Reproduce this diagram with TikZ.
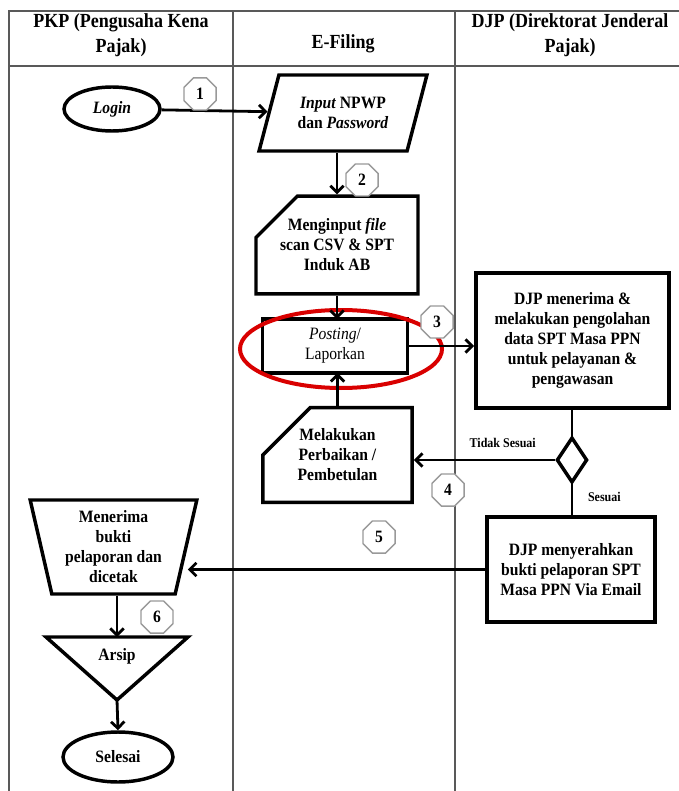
\documentclass[tikz,border=0pt]{standalone}
\usepackage{fontspec}
\setmainfont[FakeStretch=0.9]{Liberation Serif}
\usetikzlibrary{shapes.geometric,shapes.misc,arrows.meta}

\tikzset{
  box/.style={draw,line width=2.6pt,align=center,font=\fontsize{13}{15}\selectfont\bfseries,inner sep=2pt},
  num/.style={draw=black!40,line width=1.1pt,fill=white,regular polygon,regular polygon sides=8,minimum size=26pt,inner sep=0pt,font=\fontsize{13}{14}\selectfont\bfseries},
  flow/.style={line width=2.1pt,>={Straight Barb[length=5pt,width=10pt]}},
  lane/.style={draw=black!65,line width=0.9pt},
  head/.style={align=center,font=\fontsize{15}{19}\selectfont\bfseries},
  small/.style={font=\fontsize{10}{11}\selectfont\bfseries,inner sep=1pt},
}

\begin{document}
\begin{tikzpicture}[x=0.75pt,y=-0.75pt]
\useasboundingbox (0,0) rectangle (678,791);

% lanes
\draw[lane] (9,791) -- (9,11) -- (690,11);
\draw[lane] (9,66) -- (690,66);
\draw[lane] (233,11) -- (233,791);
\draw[lane] (455,11) -- (455,791);
\node[head] (pkp) at (121,35) {PKP (Pengusaha Kena\\Pajak)};
\node[head] (efiling) at (343,44) {E-Filing};
\node[head] (djp) at (570,35) {DJP (Direktorat Jenderal\\Pajak)};

% PKP
\node[box,ellipse,minimum width=72pt,minimum height=33pt,font=\fontsize{13}{15}\selectfont\bfseries\itshape] (login) at (112,109) {Login};
\node[box,trapezium,trapezium left angle=103,trapezium right angle=103,trapezium stretches=true,minimum width=125pt,minimum height=70.5pt] (terima) at (113.5,547) {Menerima\\bukti\\pelaporan dan\\dicetak};
\draw[line width=2.6pt,line join=miter] (46,637) -- (188,637) -- (117,700) -- cycle;
\coordinate (arsipTop) at (117,637);
\coordinate (arsipTip) at (117,700);
\node[font=\fontsize{13}{15}\selectfont\bfseries] (arsip) at (117,656) {Arsip};
\node[box,ellipse,minimum width=82.5pt,minimum height=37.5pt] (selesai) at (118,757) {Selesai};

% E-Filing
\node[box,trapezium,trapezium left angle=68,trapezium right angle=112,trapezium stretches=true,minimum width=127pt,minimum height=57pt] (input) at (343,113) {\textit{Input} NPWP\\dan \textit{Password}};
\node[box,chamfered rectangle,chamfered rectangle corners=north west,chamfered rectangle xsep=16pt,chamfered rectangle ysep=15pt,minimum width=112.5pt,minimum height=70.5pt] (upload) at (337,245) {Menginput \textit{file}\\scan CSV \& SPT\\Induk AB};
\node[align=center,font=\fontsize{13}{15}\selectfont,minimum width=108pt,minimum height=40pt,inner sep=2pt] (posting) at (335,346) {\textit{Posting}/\\Laporkan};
\draw[line width=2.6pt] (posting.north west) rectangle (posting.south east);
\node[box,chamfered rectangle,chamfered rectangle corners=north west,chamfered rectangle xsep=22pt,chamfered rectangle ysep=14pt,minimum width=112pt,minimum height=70.5pt] (perbaikan) at (337.5,455) {Melakukan\\Perbaikan /\\Pembetulan};
\draw[red!85!black,line width=3pt] (341,349) ellipse [x radius=75.75pt,y radius=29.25pt];

% DJP
\node[box,minimum width=145pt,minimum height=101pt] (olah) at (572.5,340.5) {DJP menerima \&\\melakukan pengolahan\\data SPT Masa PPN\\untuk pelayanan \&\\pengawasan};
\node[draw,diamond,line width=2.6pt,minimum width=23pt,minimum height=34pt,inner sep=0pt] (cek) at (572,460) {};
\node[box,minimum width=126pt,minimum height=79pt] (kirim) at (571,569.5) {DJP menyerahkan\\bukti pelaporan SPT\\Masa PPN Via Email};

% connectors
\draw[flow,->] (login) -- (input);
\draw[flow,->] (upload.north |- input.south) -- (upload.north);
\draw[flow,->] (upload.south) -- (upload.south |- posting.north);
\draw[flow,->] (posting.east) -- (posting.east -| olah.west);
\draw[flow] (cek.north |- olah.south) -- (cek.north);
\draw[flow,->] (cek.west) -- (cek.west -| perbaikan.east) node[small,pos=0.37,above=7pt] (tidak) {Tidak Sesuai};
\draw[flow,->] (perbaikan.north) -- (perbaikan.north |- posting.south);
\draw[flow] (cek.south) -- (cek.south |- kirim.north) node[small,pos=0.41,right=10pt] (sesuai) {Sesuai};
\draw[flow,->] (kirim.west) -- (kirim.west -| terima.east);
\draw[flow,->] (arsipTop |- terima.south) -- (arsipTop);
\draw[flow,->] (arsipTip) -- (selesai.north);

% step numbers
\node[num] (n1) at (200,94) {1};
\node[num] (n2) at (362,180) {2};
\node[num] (n3) at (437,322) {3};
\node[num] (n4) at (448,490) {4};
\node[num] (n5) at (379,537) {5};
\node[num] (n6) at (157,617) {6};
\end{tikzpicture}
\end{document}
